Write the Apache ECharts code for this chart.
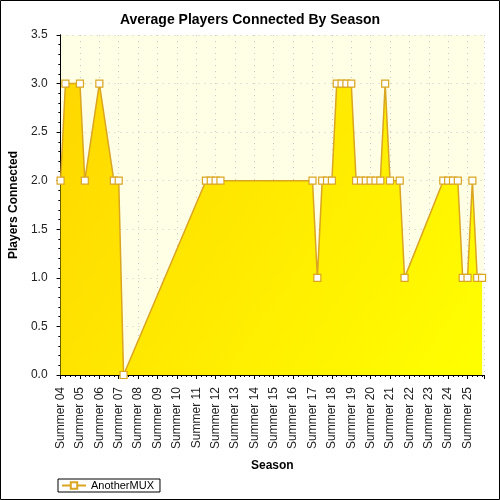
<!DOCTYPE html>
<html>
<head>
<meta charset="utf-8">
<script src="https://cdn.jsdelivr.net/npm/echarts@6/dist/echarts.min.js"></script>
<style>
html,body{margin:0;padding:0;background:#fff;}
#c{width:500px;height:500px;}
</style>
</head>
<body>
<div id="c"></div>
<script>
// quarters since Summer 04 (one step = one season)
var quarters = [0,1,4,5,8,11,12,13,30,31,32,33,52,53,54,55,56,57,58,59,60,61,62,63,64,65,66,67,68,70,71,79,80,81,82,83,84,85,86,87];
var players  = [2,3,3,2,3,2,2,0,2,2,2,2,2,1,2,2,2,3,3,3,3,2,2,2,2,2,2,3,2,2,1,2,2,2,2,1,1,2,1,1];
var tickLabels = ['Summer 04','Summer 05','Summer 06','Summer 07','Summer 08','Summer 09','Summer 10','Summer 11','Summer 12','Summer 13','Summer 14','Summer 15','Summer 16','Summer 17','Summer 18','Summer 19','Summer 20','Summer 21','Summer 22','Summer 23','Summer 24','Summer 25'];
var seriesName = 'AnotherMUX';

var data = quarters.map(function(q,i){return [q, players[i]];});
var font = 'Liberation Sans, Arial, sans-serif';
var chart = echarts.init(document.getElementById('c'));
chart.setOption({
  animation:false,
  backgroundColor:'#ffffff',
  textStyle:{fontFamily:font},
  title:{text:'Average Players Connected By Season',left:'center',top:8,
    textStyle:{fontSize:14,fontWeight:'bold',color:'#000',fontFamily:font}},
  grid:{left:60,right:16,top:35,bottom:125,show:true,backgroundColor:'#FFFFE6',borderWidth:0},
  legend:{left:58,top:479,data:[seriesName],itemWidth:24,itemHeight:8,
    borderColor:'#000',borderWidth:1,borderRadius:0,padding:[1,6,1,3],
    textStyle:{fontSize:11,color:'#000',fontFamily:font}},
  xAxis:[{
    type:'value',min:0,max:87.4,interval:4,
    name:'Season',nameLocation:'middle',nameGap:85,
    nameTextStyle:{fontSize:12,fontWeight:'bold',color:'#000',fontFamily:font},
    axisLine:{show:true,lineStyle:{color:'#000',width:1}},
    axisTick:{show:true,length:4,lineStyle:{color:'#000'}},
    minorTick:{show:true,splitNumber:4,length:2,lineStyle:{color:'#000'}},
    axisLabel:{rotate:90,margin:12,fontSize:12,color:'#222',showMaxLabel:false,
      formatter:function(v){var k=Math.round(v/4);return (Math.abs(v-k*4)<1e-6 && tickLabels[k])?tickLabels[k]:'';}},
    splitLine:{show:true,lineStyle:{color:'#C8C8C8',type:[1,5],width:1}}
  },{
    type:'value',min:0,max:87.4,interval:4,position:'top',
    axisLine:{show:true,lineStyle:{color:'#000',width:1}},
    axisTick:{show:true,inside:true,length:3,lineStyle:{color:'#000'}},
    minorTick:{show:true,splitNumber:4,length:2,lineStyle:{color:'#000'}},
    axisLabel:{show:false},splitLine:{show:false}
  }],
  yAxis:[{
    type:'value',min:0,max:3.5,interval:0.5,
    name:'Players Connected',nameLocation:'middle',nameGap:37,
    nameTextStyle:{fontSize:12,fontWeight:'bold',color:'#000',fontFamily:font},
    axisLine:{show:true,lineStyle:{color:'#000',width:1}},
    axisTick:{show:true,length:4,lineStyle:{color:'#000'}},
    minorTick:{show:true,splitNumber:5,length:2,lineStyle:{color:'#000'}},
    axisLabel:{margin:13,fontSize:12,color:'#222',formatter:function(v){return v.toFixed(1);}},
    splitLine:{show:true,lineStyle:{color:'#C8C8C8',type:[1,5],width:1}}
  },{
    type:'value',min:0,max:3.5,interval:0.5,position:'right',
    axisLine:{show:true,lineStyle:{color:'#000',width:1}},
    axisTick:{show:true,inside:true,length:3,lineStyle:{color:'#000'}},
    minorTick:{show:true,splitNumber:5,length:2,lineStyle:{color:'#000'}},
    axisLabel:{show:false},splitLine:{show:false}
  }],
  graphic:[{type:'rect',silent:true,z:100,shape:{x:0.5,y:0.5,width:499,height:499},
    style:{fill:null,stroke:'#000',lineWidth:1}}],
  series:[{
    name:seriesName,type:'line',data:data,
    symbol:'rect',symbolSize:7,showAllSymbol:true,
    itemStyle:{color:'#FFFFFF',borderColor:'#DAA520',borderWidth:1.2},
    lineStyle:{color:'#DAA520',width:1.5},
    areaStyle:{opacity:1,color:new echarts.graphic.LinearGradient(0,0,1,1,[
      {offset:0,color:'#FFD700'},{offset:1,color:'#FFFF00'}])},
    z:3
  }]
});
</script>
</body>
</html>
